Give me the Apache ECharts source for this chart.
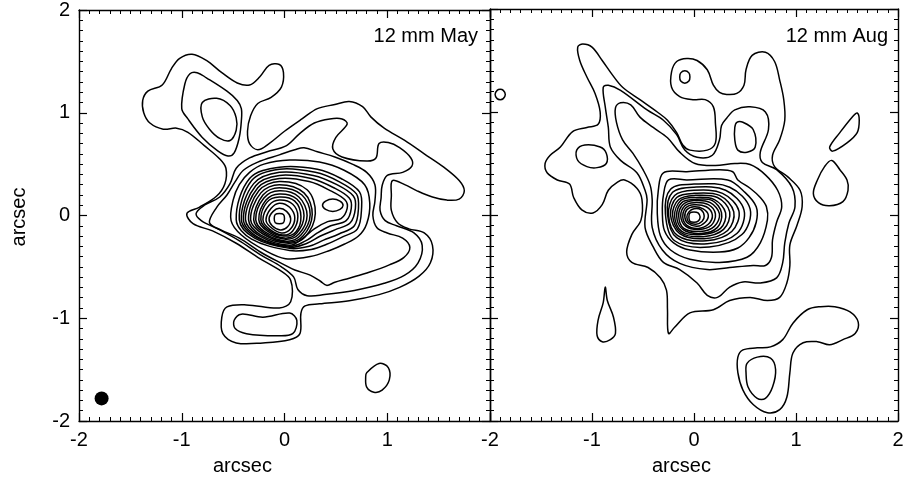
<!DOCTYPE html>
<html><head><meta charset="utf-8">
<script src="https://cdn.jsdelivr.net/npm/echarts@6/dist/echarts.min.js"></script>
<style>html,body{margin:0;padding:0;background:#fff}#c{width:909px;height:487px}</style>
</head><body><div id="c"></div>
<script>
// ---- tick labels / titles ----
const TICKS = [-2, -1, 0, 1, 2];
const PANEL_TITLES = ['12 mm May', '12 mm Aug'];
const AXIS_TITLE = 'arcsec';
const BEAM = [[-1.78, -1.78]];

// ---- 12 mm May contours (arcsec) ----
const MAY_L1 = [[-1.38,1.12],[-1.33,1.21],[-1.19,1.27],[-1.10,1.43],[-1.02,1.53],[-0.90,1.57],[-0.76,1.51],[-0.61,1.39],[-0.46,1.29],[-0.34,1.27],[-0.24,1.35],[-0.15,1.46],[-0.05,1.47],[-0.01,1.39],[-0.03,1.25],[-0.13,1.15],[-0.26,1.09],[-0.33,0.97],[-0.36,0.82],[-0.34,0.70],[-0.26,0.64],[-0.15,0.70],[0.00,0.82],[0.17,0.94],[0.32,1.04],[0.49,1.08],[0.63,1.11],[0.76,1.06],[0.84,0.96],[0.97,0.85],[1.17,0.73],[1.36,0.60],[1.55,0.47],[1.70,0.34],[1.75,0.24],[1.70,0.16],[1.58,0.15],[1.44,0.18],[1.29,0.24],[1.17,0.30],[1.05,0.34],[1.04,0.19],[1.04,0.05],[1.10,-0.07],[1.21,-0.13],[1.36,-0.17],[1.44,-0.29],[1.42,-0.46],[1.31,-0.59],[1.12,-0.70],[0.92,-0.77],[0.63,-0.83],[0.34,-0.86],[0.20,-0.88],[0.16,-0.95],[0.15,-1.15],[0.05,-1.21],[-0.21,-1.24],[-0.47,-1.24],[-0.60,-1.15],[-0.61,-0.99],[-0.56,-0.89],[-0.37,-0.87],[-0.05,-0.90],[0.06,-0.84],[0.06,-0.63],[-0.05,-0.53],[-0.24,-0.42],[-0.47,-0.27],[-0.70,-0.15],[-0.89,-0.08],[-0.95,0.02],[-0.83,0.08],[-0.66,0.19],[-0.58,0.31],[-0.57,0.46],[-0.63,0.55],[-0.78,0.68],[-0.94,0.81],[-1.05,0.85],[-1.18,0.84],[-1.31,0.90],[-1.37,1.00]];
const MAY_NW2 = [[-1.00,1.04],[-0.97,1.28],[-0.92,1.38],[-0.85,1.39],[-0.76,1.34],[-0.56,1.21],[-0.46,1.12],[-0.42,1.04],[-0.42,0.92],[-0.44,0.76],[-0.49,0.61],[-0.55,0.58],[-0.65,0.63],[-0.80,0.76],[-0.94,0.94]];
const MAY_NW3 = [[-0.80,1.10],[-0.66,1.14],[-0.53,1.07],[-0.47,0.95],[-0.47,0.83],[-0.53,0.73],[-0.63,0.75],[-0.73,0.84],[-0.80,0.96]];
const MAY_S2 = [[-0.49,-1.02],[-0.42,-0.96],[-0.21,-0.99],[0.05,-0.95],[0.12,-1.02],[0.08,-1.15],[-0.08,-1.17],[-0.37,-1.15],[-0.48,-1.10]];
const MAY_SE = [[0.80,-1.53],[0.92,-1.44],[1.01,-1.48],[1.02,-1.60],[0.95,-1.70],[0.87,-1.72],[0.80,-1.67],[0.79,-1.57]];
const MAY_C2 = [[-0.86,0.02],[-0.78,0.10],[-0.63,0.18],[-0.53,0.31],[-0.47,0.46],[-0.34,0.56],[-0.17,0.62],[0.02,0.68],[0.15,0.80],[0.29,0.90],[0.44,0.94],[0.56,0.94],[0.61,0.89],[0.50,0.76],[0.47,0.65],[0.56,0.57],[0.80,0.53],[0.89,0.56],[0.92,0.70],[1.01,0.71],[1.12,0.66],[1.23,0.56],[1.24,0.48],[1.15,0.42],[1.00,0.39],[0.95,0.29],[0.94,0.17],[0.93,0.05],[0.98,-0.05],[1.09,-0.10],[1.26,-0.17],[1.34,-0.29],[1.30,-0.46],[1.17,-0.58],[0.97,-0.66],[0.68,-0.73],[0.39,-0.77],[0.22,-0.78],[0.13,-0.72],[0.09,-0.60],[-0.03,-0.50],[-0.22,-0.39],[-0.45,-0.24],[-0.65,-0.13],[-0.81,-0.05]];
const MAY_C3 = [[-0.73,-0.07],[-0.66,0.08],[-0.56,0.20],[-0.48,0.33],[-0.40,0.44],[-0.26,0.52],[-0.05,0.59],[0.10,0.64],[0.19,0.66],[0.32,0.62],[0.49,0.57],[0.66,0.50],[0.80,0.42],[0.88,0.30],[0.88,0.14],[0.86,0.00],[0.90,-0.12],[1.00,-0.17],[1.15,-0.22],[1.22,-0.31],[1.16,-0.41],[1.02,-0.48],[0.83,-0.55],[0.63,-0.61],[0.49,-0.65],[0.41,-0.68],[0.35,-0.64],[0.25,-0.58],[0.10,-0.53],[-0.02,-0.47],[-0.21,-0.37],[-0.44,-0.22],[-0.62,-0.14]];
const MAY_C4 = [[-0.52,-0.05],[-0.50,0.15],[-0.44,0.30],[-0.34,0.42],[-0.20,0.50],[0.05,0.54],[0.34,0.52],[0.58,0.44],[0.78,0.30],[0.83,0.12],[0.80,-0.08],[0.72,-0.20],[0.58,-0.28],[0.44,-0.34],[0.25,-0.40],[0.01,-0.42],[-0.19,-0.34],[-0.42,-0.19]];
const MAY_PEAK2 = [[0.57,0.10],[0.54,0.14],[0.47,0.16],[0.40,0.14],[0.37,0.10],[0.40,0.06],[0.47,0.04],[0.54,0.06]];
const MAY_RINGS = [
 [[0.00,-0.03],[-0.01,0.01],[-0.05,0.02],[-0.09,0.01],[-0.10,-0.03],[-0.09,-0.07],[-0.05,-0.08],[-0.01,-0.07]],
 [[0.06,-0.03],[0.02,0.04],[-0.05,0.07],[-0.11,0.04],[-0.15,-0.03],[-0.12,-0.10],[-0.04,-0.14],[0.03,-0.11]],
 [[0.10,-0.02],[0.05,0.08],[-0.05,0.12],[-0.13,0.07],[-0.18,-0.04],[-0.14,-0.11],[-0.03,-0.17],[0.06,-0.13]],
 [[0.13,-0.01],[0.08,0.11],[-0.05,0.15],[-0.15,0.10],[-0.21,-0.04],[-0.15,-0.13],[-0.02,-0.19],[0.08,-0.15]],
 [[0.16,-0.01],[0.10,0.14],[-0.05,0.18],[-0.17,0.13],[-0.23,-0.04],[-0.16,-0.14],[-0.01,-0.20],[0.11,-0.16]],
 [[0.19,0.00],[0.12,0.16],[-0.05,0.21],[-0.18,0.15],[-0.25,-0.04],[-0.17,-0.15],[0.00,-0.22],[0.12,-0.17]],
 [[0.22,0.00],[0.14,0.18],[-0.05,0.24],[-0.20,0.17],[-0.28,-0.04],[-0.19,-0.16],[0.01,-0.23],[0.14,-0.18]],
 [[0.25,0.01],[0.17,0.20],[-0.05,0.27],[-0.21,0.20],[-0.30,-0.04],[-0.20,-0.17],[0.02,-0.25],[0.16,-0.19]],
 [[0.27,0.01],[0.19,0.22],[-0.05,0.30],[-0.23,0.22],[-0.33,-0.04],[-0.21,-0.18],[0.03,-0.26],[0.18,-0.20]],
 [[0.30,0.02],[0.22,0.25],[-0.05,0.33],[-0.25,0.24],[-0.35,-0.04],[-0.23,-0.19],[0.04,-0.27],[0.20,-0.21]],
 [[-0.38,-0.04],[-0.26,0.27],[-0.05,0.36],[0.24,0.33],[0.45,0.24],[0.59,0.15],[0.61,0.07],[0.55,-0.03],[0.42,-0.06],[0.29,-0.13],[0.18,-0.22],[0.05,-0.29],[-0.24,-0.20]],
 [[-0.40,-0.04],[-0.28,0.29],[-0.05,0.39],[0.26,0.36],[0.48,0.27],[0.63,0.17],[0.65,0.07],[0.60,-0.05],[0.45,-0.10],[0.32,-0.17],[0.20,-0.25],[0.05,-0.30],[-0.26,-0.21]],
 [[-0.42,-0.04],[-0.30,0.31],[-0.05,0.42],[0.28,0.39],[0.51,0.30],[0.67,0.19],[0.69,0.07],[0.64,-0.07],[0.49,-0.14],[0.35,-0.20],[0.22,-0.27],[0.05,-0.31],[-0.28,-0.21]],
 [[-0.44,-0.04],[-0.32,0.34],[-0.05,0.45],[0.30,0.42],[0.53,0.33],[0.70,0.21],[0.72,0.07],[0.68,-0.10],[0.53,-0.18],[0.38,-0.24],[0.24,-0.30],[0.05,-0.32],[-0.29,-0.22]],
 [[-0.47,-0.04],[-0.34,0.36],[-0.05,0.47],[0.32,0.45],[0.55,0.36],[0.73,0.23],[0.75,0.07],[0.71,-0.13],[0.56,-0.21],[0.41,-0.28],[0.26,-0.33],[0.05,-0.34],[-0.32,-0.23]]
];

// ---- 12 mm Aug contours (arcsec) ----
const AUG_R1 = [[-1.14,1.63],[-1.09,1.66],[-1.00,1.63],[-0.90,1.50],[-0.80,1.36],[-0.70,1.24],[-0.53,1.12],[-0.36,1.00],[-0.26,0.92],[-0.17,0.80],[-0.11,0.68],[-0.04,0.63],[0.13,0.63],[0.21,0.70],[0.21,0.89],[0.19,1.05],[0.11,1.12],[-0.01,1.12],[-0.14,1.15],[-0.22,1.24],[-0.22,1.39],[-0.17,1.49],[-0.07,1.52],[0.03,1.50],[0.13,1.41],[0.19,1.26],[0.25,1.19],[0.32,1.17],[0.42,1.18],[0.49,1.26],[0.51,1.41],[0.57,1.55],[0.70,1.58],[0.79,1.49],[0.84,1.31],[0.88,1.12],[0.89,0.92],[0.84,0.73],[0.77,0.58],[0.79,0.47],[0.92,0.37],[1.04,0.24],[1.06,0.08],[1.01,-0.10],[0.94,-0.29],[0.94,-0.49],[0.91,-0.66],[0.84,-0.80],[0.72,-0.83],[0.55,-0.80],[0.35,-0.83],[0.19,-0.92],[-0.04,-0.95],[-0.19,-1.09],[-0.25,-1.15],[-0.26,-0.92],[-0.27,-0.73],[-0.33,-0.61],[-0.45,-0.51],[-0.61,-0.46],[-0.66,-0.36],[-0.61,-0.19],[-0.52,-0.05],[-0.51,0.15],[-0.56,0.26],[-0.68,0.34],[-0.75,0.32],[-0.84,0.24],[-0.90,0.10],[-0.99,0.02],[-1.10,0.05],[-1.18,0.17],[-1.22,0.30],[-1.34,0.34],[-1.44,0.41],[-1.46,0.50],[-1.41,0.58],[-1.31,0.66],[-1.19,0.81],[-1.05,0.85],[-0.94,0.88],[-0.92,1.00],[-0.97,1.18],[-1.05,1.34],[-1.12,1.50]];
const AUG_R2 = [[-0.89,1.24],[-0.84,1.26],[-0.72,1.21],[-0.46,1.02],[-0.30,0.92],[-0.17,0.78],[-0.09,0.63],[0.03,0.56],[0.18,0.58],[0.25,0.73],[0.27,0.87],[0.32,0.94],[0.40,1.02],[0.55,1.05],[0.70,1.00],[0.73,0.83],[0.65,0.61],[0.67,0.51],[0.81,0.44],[0.96,0.27],[0.99,0.08],[0.93,-0.08],[0.89,-0.27],[0.87,-0.46],[0.81,-0.61],[0.65,-0.66],[0.48,-0.65],[0.35,-0.70],[0.23,-0.80],[0.13,-0.78],[0.03,-0.66],[-0.14,-0.53],[-0.30,-0.46],[-0.40,-0.31],[-0.48,-0.12],[-0.46,0.15],[-0.48,0.24],[-0.56,0.41],[-0.72,0.53],[-0.82,0.66],[-0.84,0.85],[-0.87,1.05]];
const AUG_R3 = [[-0.77,1.04],[-0.72,1.09],[-0.62,1.07],[-0.53,0.95],[-0.40,0.85],[-0.26,0.75],[-0.14,0.61],[0.01,0.50],[0.21,0.48],[0.40,0.50],[0.55,0.49],[0.70,0.39],[0.82,0.24],[0.86,0.08],[0.81,-0.07],[0.77,-0.24],[0.76,-0.41],[0.70,-0.49],[0.58,-0.49],[0.35,-0.51],[0.13,-0.53],[-0.14,-0.47],[-0.31,-0.34],[-0.41,-0.12],[-0.41,0.15],[-0.43,0.29],[-0.50,0.44],[-0.60,0.60],[-0.70,0.73],[-0.76,0.90]];
const AUG_K1 = [[-0.30,0.41],[-0.07,0.42],[0.25,0.44],[0.38,0.42],[0.43,0.34],[0.55,0.26],[0.65,0.17],[0.71,0.08],[0.72,-0.05],[0.65,-0.27],[0.52,-0.41],[0.25,-0.46],[-0.04,-0.43],[-0.23,-0.34],[-0.33,-0.20],[-0.36,0.02],[-0.35,0.24]];
const AUG_K2 = [[-0.25,0.34],[-0.07,0.34],[0.33,0.34],[0.50,0.22],[0.61,0.08],[0.61,-0.07],[0.54,-0.22],[0.43,-0.32],[0.25,-0.36],[-0.04,-0.34],[-0.20,-0.27],[-0.29,-0.15],[-0.31,0.02],[-0.30,0.19]];
const AUG_RINGS = [
 [[0.55,0.06],[0.35,0.27],[0.00,0.30],[-0.23,0.25],[-0.28,0.01],[-0.19,-0.25],[0.15,-0.31],[0.47,-0.19]],
 [[0.49,0.05],[0.31,0.24],[0.00,0.27],[-0.21,0.22],[-0.26,0.01],[-0.17,-0.22],[0.13,-0.28],[0.42,-0.18]],
 [[0.44,0.04],[0.28,0.21],[0.00,0.24],[-0.19,0.19],[-0.25,0.00],[-0.16,-0.20],[0.12,-0.25],[0.37,-0.16]],
 [[0.39,0.03],[0.25,0.19],[0.00,0.21],[-0.17,0.17],[-0.23,0.00],[-0.14,-0.18],[0.10,-0.23],[0.33,-0.15]],
 [[0.35,0.03],[0.23,0.17],[0.00,0.19],[-0.15,0.15],[-0.21,0.00],[-0.13,-0.17],[0.09,-0.21],[0.29,-0.14]],
 [[0.31,0.02],[0.20,0.15],[0.00,0.17],[-0.13,0.14],[-0.19,-0.01],[-0.12,-0.16],[0.08,-0.19],[0.26,-0.13]],
 [[0.27,0.02],[0.18,0.14],[0.00,0.15],[-0.12,0.12],[-0.17,-0.01],[-0.11,-0.14],[0.07,-0.18],[0.23,-0.12]],
 [[0.25,0.01],[0.16,0.12],[0.00,0.14],[-0.11,0.10],[-0.15,-0.01],[-0.10,-0.13],[0.06,-0.16],[0.20,-0.11]],
 [[0.21,0.01],[0.14,0.10],[0.00,0.12],[-0.09,0.09],[-0.13,-0.01],[-0.08,-0.11],[0.05,-0.14],[0.17,-0.10]],
 [[0.18,0.00],[0.12,0.08],[0.00,0.10],[-0.08,0.07],[-0.11,-0.02],[-0.07,-0.10],[0.04,-0.13],[0.14,-0.09]],
 [[0.14,0.00],[0.09,0.06],[0.00,0.08],[-0.07,0.05],[-0.09,-0.02],[-0.06,-0.08],[0.03,-0.11],[0.11,-0.07]],
 [[0.10,-0.01],[0.07,0.05],[0.00,0.06],[-0.05,0.03],[-0.07,-0.02],[-0.05,-0.07],[0.02,-0.09],[0.08,-0.06]],
 [[0.06,-0.02],[0.04,0.02],[0.00,0.03],[-0.04,0.02],[-0.05,-0.02],[-0.04,-0.06],[0.00,-0.07],[0.04,-0.06]]
];
const AUG_NE_LOOP = [[0.42,0.90],[0.48,0.90],[0.58,0.83],[0.60,0.66],[0.52,0.61],[0.43,0.63],[0.40,0.73],[0.40,0.85]];
const AUG_N_DOT = [[-0.04,1.34],[-0.05,1.38],[-0.09,1.40],[-0.13,1.38],[-0.14,1.34],[-0.13,1.30],[-0.09,1.28],[-0.05,1.30]];
const AUG_W_LOOP = [[-1.15,0.63],[-1.07,0.68],[-0.92,0.66],[-0.86,0.60],[-0.86,0.50],[-0.95,0.46],[-1.05,0.47],[-1.14,0.53]];
const AUG_EDGE_DOT = [[-1.85,1.17],[-1.87,1.21],[-1.90,1.22],[-1.93,1.21],[-1.95,1.17],[-1.93,1.13],[-1.90,1.12],[-1.87,1.13]];
const AUG_E_DROP1 = [[1.33,0.66],[1.43,0.80],[1.55,0.95],[1.60,0.99],[1.62,0.92],[1.60,0.80],[1.50,0.70],[1.36,0.62]];
const AUG_E_DROP2 = [[1.35,0.53],[1.43,0.44],[1.50,0.34],[1.51,0.24],[1.46,0.13],[1.33,0.09],[1.22,0.12],[1.17,0.21],[1.21,0.34],[1.28,0.47]];
const AUG_W_DROP = [[-0.87,-0.70],[-0.85,-0.83],[-0.79,-0.99],[-0.77,-1.15],[-0.82,-1.21],[-0.90,-1.23],[-0.95,-1.17],[-0.94,-1.02],[-0.89,-0.85]];
const AUG_SE_OUTER = [[0.43,-1.38],[0.48,-1.31],[0.62,-1.29],[0.75,-1.28],[0.87,-1.21],[0.97,-1.05],[1.11,-0.92],[1.24,-0.89],[1.38,-0.89],[1.53,-0.94],[1.61,-1.04],[1.58,-1.15],[1.46,-1.21],[1.33,-1.26],[1.21,-1.23],[1.07,-1.24],[0.97,-1.34],[0.94,-1.53],[0.91,-1.77],[0.84,-1.89],[0.72,-1.92],[0.58,-1.84],[0.48,-1.70],[0.43,-1.53]];
const AUG_SE_INNER = [[0.52,-1.44],[0.62,-1.38],[0.75,-1.39],[0.80,-1.50],[0.77,-1.67],[0.70,-1.78],[0.62,-1.78],[0.53,-1.67],[0.51,-1.53]];

const MAY = [MAY_L1, MAY_NW2, MAY_NW3, MAY_S2, MAY_SE, MAY_C2, MAY_C3, MAY_C4, MAY_PEAK2].concat(MAY_RINGS);
const AUG = [AUG_R1, AUG_R2, AUG_R3, AUG_K1, AUG_K2, AUG_NE_LOOP, AUG_N_DOT, AUG_W_LOOP, AUG_EDGE_DOT, AUG_E_DROP1, AUG_E_DROP2, AUG_W_DROP, AUG_SE_OUTER, AUG_SE_INNER].concat(AUG_RINGS);

const FONT = "'Liberation Sans', Arial, Helvetica, sans-serif";
const chart = echarts.init(document.getElementById('c'), null, {renderer: 'canvas'});

function contourSeries(list, idx) {
  return {
    type: 'custom', coordinateSystem: 'cartesian2d', xAxisIndex: idx * 2, yAxisIndex: idx * 2,
    clip: true, silent: true, animation: false,
    data: list.map(c => [c[0][0], c[0][1]]),
    encode: {x: 0, y: 1},
    renderItem: function (params, api) {
      const c = list[params.dataIndex];
      return {type: 'polygon', shape: {points: c.map(p => api.coord(p)), smooth: 0.35},
              style: {fill: 'none', stroke: '#000', lineWidth: 1.5}};
    }
  };
}

function axisCommon(showLabel, hideMax) {
  return {
    min: TICKS[0], max: TICKS[TICKS.length - 1], interval: 1,
    axisLine: {show: true, onZero: false, lineStyle: {color: '#000', width: 1.4}},
    axisTick: {show: true, inside: true, length: 8, lineStyle: {color: '#000', width: 1.2}},
    minorTick: {show: true, splitNumber: 10, length: 4, lineStyle: {color: '#000', width: 1}},
    splitLine: {show: false}, minorSplitLine: {show: false},
    axisLabel: {show: showLabel, color: '#000', fontSize: 20, fontFamily: FONT, margin: 9, showMaxLabel: !hideMax}
  };
}

const xAxes = [], yAxes = [];
[0, 1].forEach(g => {
  xAxes.push(Object.assign(axisCommon(true, g === 0), {gridIndex: g, position: 'bottom', type: 'value'}));
  xAxes.push(Object.assign(axisCommon(false, false), {gridIndex: g, position: 'top', type: 'value'}));
  yAxes.push(Object.assign(axisCommon(g === 0, false), {gridIndex: g, position: 'left', type: 'value'}));
  yAxes.push(Object.assign(axisCommon(false, false), {gridIndex: g, position: 'right', type: 'value'}));
});

chart.setOption({
  animation: false,
  backgroundColor: '#fff',
  grid: [
    {left: 79, top: 9, width: 411, height: 412},
    {left: 490, top: 9, width: 408, height: 412}
  ],
  xAxis: xAxes,
  yAxis: yAxes,
  graphic: [
    {type: 'text', left: 213, top: 456, style: {text: AXIS_TITLE, fontSize: 20, fontFamily: FONT, fill: '#000'}},
    {type: 'text', left: 652, top: 456, style: {text: AXIS_TITLE, fontSize: 20, fontFamily: FONT, fill: '#000'}},
    {type: 'text', x: 19, y: 217, rotation: Math.PI / 2,
     style: {text: AXIS_TITLE, fontSize: 20, fontFamily: FONT, fill: '#000', align: 'center', verticalAlign: 'middle'}},
    {type: 'text', x: 478, y: 36, style: {text: PANEL_TITLES[0], fontSize: 20, fontFamily: FONT, fill: '#000', align: 'right', verticalAlign: 'middle'}},
    {type: 'text', x: 888, y: 36, style: {text: PANEL_TITLES[1], fontSize: 20, fontFamily: FONT, fill: '#000', align: 'right', verticalAlign: 'middle'}}
  ],
  series: [
    contourSeries(MAY, 0),
    contourSeries(AUG, 1),
    {type: 'scatter', xAxisIndex: 0, yAxisIndex: 0, data: BEAM, symbol: 'circle', symbolSize: 14,
     itemStyle: {color: '#000', opacity: 1}, silent: true}
  ]
});
</script>
</body></html>
